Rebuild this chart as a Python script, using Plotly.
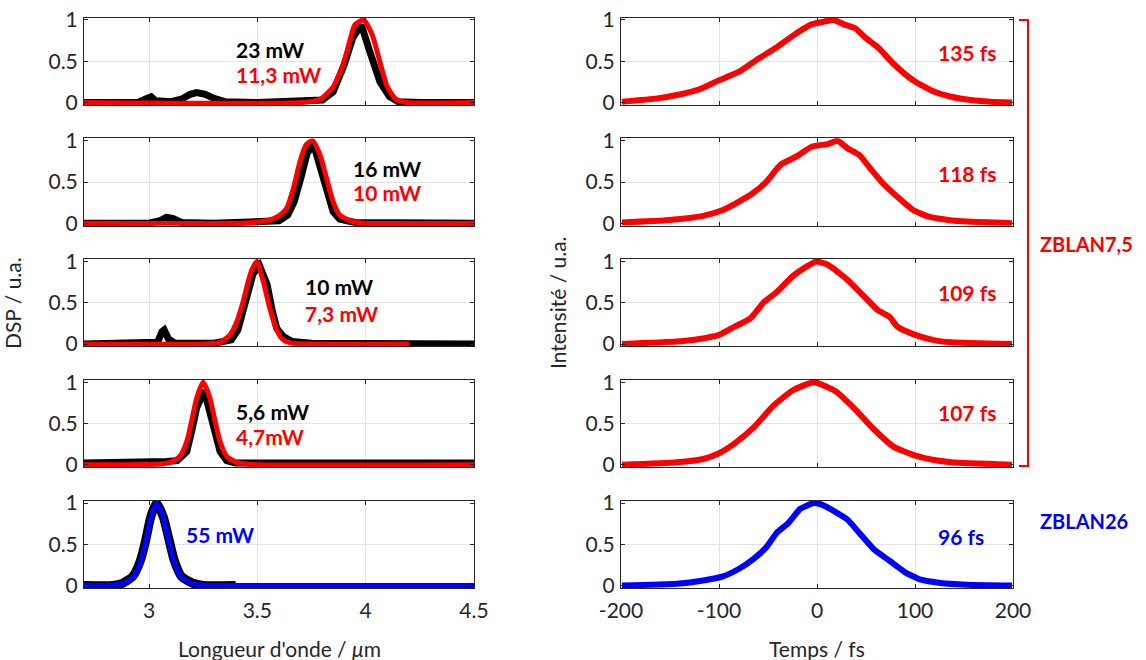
import plotly.graph_objects as go
from plotly.subplots import make_subplots

W, H = 1146, 660

# ---- spectra (left column), wavelength in um ----
s1_black_x = [2.70, 2.95, 2.99, 3.01, 3.03, 3.10, 3.15, 3.19, 3.22, 3.26, 3.30, 3.35, 3.50, 3.75, 3.80, 3.85, 3.90, 3.94, 3.98, 4.02, 4.066, 4.11, 4.15, 4.25, 4.50]
s1_black_y = [0.00, 0.00, 0.05, 0.07, 0.02, 0.01, 0.04, 0.10, 0.12, 0.10, 0.05, 0.01, 0.00, 0.01, 0.03, 0.13, 0.45, 0.78, 0.94, 0.61, 0.25, 0.07, 0.01, 0.00, 0.00]
s1_red_x = [2.70, 3.70, 3.79, 3.85, 3.90, 3.93, 3.95, 3.99, 4.03, 4.066, 4.10, 4.14, 4.19, 4.50]
s1_red_y = [0.00, 0.00, 0.04, 0.19, 0.49, 0.78, 0.94, 1.00, 0.82, 0.49, 0.19, 0.04, 0.00, 0.00]

s2_black_x = [2.70, 3.00, 3.05, 3.08, 3.11, 3.15, 3.30, 3.50, 3.60, 3.64, 3.67, 3.70, 3.73, 3.76, 3.79, 3.82, 3.85, 3.88, 3.95, 4.50]
s2_black_y = [0.00, 0.00, 0.03, 0.07, 0.06, 0.01, 0.00, 0.01, 0.03, 0.10, 0.26, 0.54, 0.85, 0.95, 0.70, 0.38, 0.14, 0.05, 0.01, 0.00]
s2_red_x = [2.70, 3.40, 3.48, 3.558, 3.605, 3.635, 3.666, 3.697, 3.725, 3.755, 3.789, 3.82, 3.85, 3.88, 3.94, 4.00, 4.50]
s2_red_y = [0.00, 0.00, 0.01, 0.04, 0.10, 0.18, 0.42, 0.75, 0.95, 1.00, 0.83, 0.54, 0.26, 0.10, 0.02, 0.00, 0.00]

s3_black_x = [2.70, 3.00, 3.04, 3.06, 3.07, 3.09, 3.12, 3.30, 3.38, 3.41, 3.435, 3.46, 3.48, 3.51, 3.53, 3.545, 3.57, 3.59, 3.62, 3.66, 3.75, 4.50]
s3_black_y = [0.00, 0.00, 0.02, 0.15, 0.17, 0.06, 0.01, 0.01, 0.05, 0.17, 0.39, 0.68, 0.85, 0.95, 0.80, 0.72, 0.39, 0.19, 0.09, 0.03, 0.01, 0.00]
s3_red_x = [2.70, 3.25, 3.328, 3.374, 3.405, 3.435, 3.458, 3.475, 3.497, 3.527, 3.558, 3.589, 3.62, 3.66, 3.75, 4.20]
s3_red_y = [0.00, 0.00, 0.02, 0.11, 0.27, 0.52, 0.76, 0.90, 1.00, 0.76, 0.43, 0.17, 0.05, 0.01, 0.00, 0.00]

s4_black_x = [2.70, 3.00, 3.08, 3.13, 3.174, 3.197, 3.22, 3.255, 3.281, 3.305, 3.328, 3.359, 3.40, 4.50]
s4_black_y = [0.02, 0.02, 0.04, 0.05, 0.16, 0.41, 0.69, 0.90, 0.65, 0.37, 0.16, 0.05, 0.02, 0.02]
s4_red_x = [2.70, 3.05, 3.097, 3.143, 3.174, 3.197, 3.22, 3.25, 3.281, 3.305, 3.328, 3.359, 3.405, 3.45, 3.50, 4.50]
s4_red_y = [0.00, 0.01, 0.03, 0.10, 0.28, 0.53, 0.81, 1.00, 0.81, 0.53, 0.28, 0.10, 0.03, 0.01, 0.00, 0.00]

s5_black_x = [2.70, 2.83, 2.88, 2.925, 2.96, 2.985, 3.008, 3.035, 3.066, 3.093, 3.117, 3.15, 3.20, 3.25, 3.40]
s5_black_y = [0.00, 0.00, 0.03, 0.11, 0.30, 0.55, 0.83, 1.00, 0.83, 0.55, 0.30, 0.11, 0.03, 0.00, 0.00]
s5_blue_x = [2.70, 2.84, 2.885, 2.93, 2.962, 2.985, 3.008, 3.035, 3.066, 3.092, 3.115, 3.146, 3.192, 3.24, 3.30, 4.50]
s5_blue_y = [0.00, 0.005, 0.03, 0.11, 0.29, 0.53, 0.82, 1.00, 0.82, 0.53, 0.29, 0.11, 0.03, 0.005, 0.00, 0.00]

# ---- pulses (right column), time in fs ----
p1_t = [-199, -163, -139, -120, -100, -80, -60, -41, -21, -5, 7, 17, 27, 39, 50, 62, 78, 98, 118, 137, 157, 177, 199]
p1_i = [0.01, 0.05, 0.10, 0.16, 0.27, 0.37, 0.53, 0.67, 0.84, 0.95, 0.98, 1.00, 0.95, 0.90, 0.78, 0.67, 0.47, 0.27, 0.14, 0.07, 0.03, 0.01, 0.00]
p2_t = [-199, -151, -116, -96, -80, -66, -52, -37, -21, -5, 11, 21, 31, 43, 54, 66, 82, 98, 114, 134, 153, 199]
p2_i = [0.01, 0.04, 0.09, 0.16, 0.26, 0.36, 0.50, 0.71, 0.81, 0.93, 0.96, 1.00, 0.91, 0.83, 0.67, 0.50, 0.32, 0.16, 0.08, 0.04, 0.02, 0.00]
p3_t = [-199, -143, -120, -100, -84, -68, -54, -41, -25, -9, -1, 11, 31, 47, 62, 74, 82, 98, 118, 137, 199]
p3_i = [0.00, 0.03, 0.06, 0.11, 0.21, 0.31, 0.51, 0.63, 0.82, 0.95, 1.00, 0.96, 0.78, 0.59, 0.41, 0.33, 0.21, 0.12, 0.05, 0.02, 0.00]
p4_t = [-199, -143, -116, -100, -84, -64, -45, -25, -3, 19, 39, 58, 78, 98, 118, 137, 199]
p4_i = [0.00, 0.03, 0.07, 0.14, 0.26, 0.46, 0.71, 0.90, 1.00, 0.89, 0.67, 0.43, 0.22, 0.12, 0.06, 0.03, 0.00]
p5_t = [-199, -143, -116, -96, -80, -64, -52, -41, -29, -17, -3, 5, 19, 31, 43, 58, 74, 90, 106, 126, 153, 199]
p5_i = [0.00, 0.02, 0.06, 0.11, 0.20, 0.33, 0.46, 0.64, 0.76, 0.93, 1.00, 0.98, 0.89, 0.80, 0.64, 0.44, 0.30, 0.16, 0.07, 0.03, 0.01, 0.00]

power_black = ["23 mW", "16 mW", "10 mW", "5,6 mW"]
power_red = ["11,3 mW", "10 mW", "7,3 mW", "4,7mW"]
power_blue = "55 mW"
durations = ["135 fs", "118 fs", "109 fs", "107 fs", "96 fs"]

RED, BLUE, BLACK = "#ff0000", "#0000ff", "#000000"
AX = "#262626"
GRID = "#e3e3e3"
FONT = "Lato"

fig = make_subplots(rows=5, cols=2)

spectra = [
    (s1_black_x, s1_black_y, s1_red_x, s1_red_y),
    (s2_black_x, s2_black_y, s2_red_x, s2_red_y),
    (s3_black_x, s3_black_y, s3_red_x, s3_red_y),
    (s4_black_x, s4_black_y, s4_red_x, s4_red_y),
]
for r, (bx, by, rx, ry) in enumerate(spectra, start=1):
    fig.add_trace(go.Scatter(x=bx, y=by, mode="lines", line=dict(color=BLACK, width=7)), row=r, col=1)
    fig.add_trace(go.Scatter(x=rx, y=ry, mode="lines", line=dict(color=RED, width=5, shape="spline", smoothing=0.6)), row=r, col=1)

fig.add_trace(go.Scatter(x=s5_black_x, y=s5_black_y, mode="lines", line=dict(color=BLACK, width=9, shape="spline", smoothing=0.6)), row=5, col=1)
fig.add_trace(go.Scatter(x=s5_blue_x, y=s5_blue_y, mode="lines", line=dict(color=BLUE, width=5, shape="spline", smoothing=0.6)), row=5, col=1)

pulses = [(p1_t, p1_i), (p2_t, p2_i), (p3_t, p3_i), (p4_t, p4_i)]
for r, (t, i) in enumerate(pulses, start=1):
    fig.add_trace(go.Scatter(x=t, y=i, mode="lines", line=dict(color=RED, width=6, shape="spline", smoothing=0.5)), row=r, col=2)
fig.add_trace(go.Scatter(x=p5_t, y=p5_i, mode="lines", line=dict(color=BLUE, width=6, shape="spline", smoothing=0.5)), row=5, col=2)

# ---- axes layout ----
row_tops = [20, 140.75, 261.5, 382.25, 503]
row_h = 82.5
ypad = 0.03
cols_px = [(84, 474), (621, 1013)]

axis_common = dict(
    showline=True, mirror="ticks", linecolor=AX, linewidth=1,
    ticks="inside", ticklen=4, tickcolor=AX,
    tickfont=dict(family=FONT, size=21, color=AX),
    zeroline=False, automargin=False,
)

for r in range(5):
    top, bot = row_tops[r], row_tops[r] + row_h
    pad = row_h * ypad
    ydom = [1 - (bot + pad) / H, 1 - (top - pad) / H]
    for c in range(2):
        n = r * 2 + c + 1
        xa = "xaxis" if n == 1 else f"xaxis{n}"
        ya = "yaxis" if n == 1 else f"yaxis{n}"
        x0, x1 = cols_px[c]
        if c == 0:
            xr, xt = [2.7, 4.5], [3, 3.5, 4, 4.5]
            xtt = ["3", "3.5", "4", "4.5"]
        else:
            xr, xt = [-200, 200], [-200, -100, 0, 100, 200]
            xtt = [str(v) for v in xt]
        fig.update_layout({
            xa: dict(axis_common, domain=[x0 / W, x1 / W], range=xr, tickvals=xt, ticktext=xtt,
                     showgrid=True, gridcolor=GRID, showticklabels=(r == 4), ticklabelstandoff=4),
            ya: dict(axis_common, domain=ydom, range=[-ypad, 1 + ypad], tickvals=[0, 0.5, 1],
                     ticktext=["0", "0.5", "1"], showgrid=False,
                     minor=dict(tickvals=[0.5], showgrid=True, gridcolor=GRID, ticks=""),
                     ticklabelstandoff=1),
        })

# ---- annotations ----
def ref(r, c):
    n = (r - 1) * 2 + c
    return ("x" if n == 1 else f"x{n}"), ("y" if n == 1 else f"y{n}")

bold = lambda col, size=21: dict(family=FONT, size=size, color=col)
black_pos = [(3.39, 0.64), (3.93, 0.665), (3.71, 0.70), (3.39, 0.65)]
red_pos = [(3.39, 0.34), (3.93, 0.37), (3.71, 0.37), (3.39, 0.34)]
for r in range(4):
    xr_, yr_ = ref(r + 1, 1)
    fig.add_annotation(x=black_pos[r][0], y=black_pos[r][1], xref=xr_, yref=yr_, text=f"<b>{power_black[r]}</b>",
                       showarrow=False, xanchor="left", yanchor="middle", font=bold(BLACK))
    fig.add_annotation(x=red_pos[r][0], y=red_pos[r][1], xref=xr_, yref=yr_, text=f"<b>{power_red[r]}</b>",
                       showarrow=False, xanchor="left", yanchor="middle", font=bold(RED))
xr_, yr_ = ref(5, 1)
fig.add_annotation(x=3.16, y=0.62, xref=xr_, yref=yr_, text=f"<b>{power_blue}</b>",
                   showarrow=False, xanchor="left", yanchor="middle", font=bold(BLUE))

dur_y = [0.61, 0.60, 0.62, 0.63, 0.60]
for r in range(5):
    xr_, yr_ = ref(r + 1, 2)
    fig.add_annotation(x=185 if r < 4 else 172, y=dur_y[r], xref=xr_, yref=yr_, text=f"<b>{durations[r]}</b>",
                       showarrow=False, xanchor="right", yanchor="middle", font=bold(RED if r < 4 else BLUE))

title_font = dict(family=FONT, size=21, color=AX)
titles = [
    (12, 303, "DSP / u.a.", -90),
    (557, 303, "Intensité / u.a.", -90),
    (279, 648, "Longueur d'onde / <i>μ</i>m", 0),
    (817, 648, "Temps / fs", 0),
]
for px, py, txt, ang in titles:
    fig.add_annotation(x=px / W, y=1 - py / H, xref="paper", yref="paper", text=txt, textangle=ang,
                       showarrow=False, xanchor="center", yanchor="middle", font=title_font)

fig.add_annotation(x=1038 / W, y=1 - 244 / H, xref="paper", yref="paper", text="<b>ZBLAN7,5</b>",
                   showarrow=False, xanchor="left", yanchor="middle", font=bold(RED, 20))
fig.add_annotation(x=1038 / W, y=1 - 521 / H, xref="paper", yref="paper", text="<b>ZBLAN26</b>",
                   showarrow=False, xanchor="left", yanchor="middle", font=bold(BLUE, 20))

# bracket grouping the ZBLAN7,5 rows
bx0, bx1, by0, by1 = 1019, 1028, 20, 466
fig.add_shape(type="path", xref="paper", yref="paper",
              path=f"M {bx0 / W},{1 - by0 / H} L {bx1 / W},{1 - by0 / H} L {bx1 / W},{1 - by1 / H} L {bx0 / W},{1 - by1 / H}",
              line=dict(color=RED, width=2))

fig.update_layout(
    width=W, height=H,
    margin=dict(l=0, r=0, t=0, b=0),
    paper_bgcolor="white", plot_bgcolor="white",
    showlegend=False,
    font=dict(family=FONT, color=AX),
)

fig.write_html("out.html", config={"displayModeBar": False},
               post_script="document.body.style.margin='0';")
